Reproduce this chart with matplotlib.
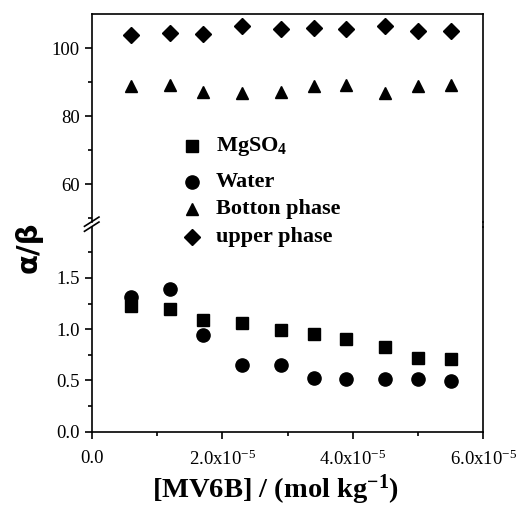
import matplotlib
matplotlib.use("Agg")
import matplotlib.pyplot as plt
from matplotlib.lines import Line2D
import numpy as np

plt.rcParams['font.family'] = ['Liberation Serif', 'DejaVu Serif']
plt.rcParams['mathtext.fontset'] = 'custom'
plt.rcParams['mathtext.rm'] = 'Liberation Serif'
plt.rcParams['mathtext.bf'] = 'Liberation Serif:bold'
plt.rcParams['mathtext.it'] = 'Liberation Serif:italic'

# donnees
conc = [0.6e-5, 1.2e-5, 1.7e-5, 2.3e-5, 2.9e-5, 3.4e-5, 3.9e-5, 4.5e-5, 5.0e-5, 5.5e-5]
mgso4 = [1.23, 1.20, 1.09, 1.06, 0.99, 0.95, 0.90, 0.83, 0.72, 0.71]
water = [1.31, 1.39, 0.94, 0.65, 0.65, 0.52, 0.51, 0.51, 0.51, 0.49]
bottom_phase = [88.8, 89.2, 87.2, 86.8, 87.0, 88.8, 89.3, 86.9, 88.8, 89.3]
upper_phase = [104.0, 104.5, 104.2, 106.5, 105.6, 106.1, 105.7, 106.6, 105.0, 105.2]

xticks = [0.0, 2e-5, 4e-5, 6e-5]
xticklabels = ['0.0', '2.0x10$^{-5}$', '4.0x10$^{-5}$', '6.0x10$^{-5}$']

noms = ['MgSO$_\\mathbf{4}$', 'Water', 'Botton phase', 'upper phase']
marqueurs = ['s', 'o', '^', 'D']
tailles = [8, 9.5, 9, 8.5]

fig = plt.figure(figsize=(5.17, 5.14), dpi=100)
ax_haut = fig.add_axes([0.1774, 0.5687, 0.7574, 0.4035])
ax_bas = fig.add_axes([0.1774, 0.1601, 0.7574, 0.3989])

for ax in (ax_haut, ax_bas):
    ax.set_xlim(0, 6e-5)
    ax.tick_params(which='both', direction='out', top=False, right=False, labelsize=13.5)
    ax.tick_params(which='major', length=5, width=1.2)
    ax.tick_params(which='minor', length=3, width=1.2)
    for sp in ax.spines.values():
        sp.set_linewidth(1.2)

# partie haute
ax_haut.plot(conc, bottom_phase, marqueurs[2], color='k', ms=tailles[2])
ax_haut.plot(conc, upper_phase, marqueurs[3], color='k', ms=tailles[3])
ax_haut.set_ylim(49, 110)
ax_haut.set_yticks([60, 80, 100])
ax_haut.set_yticks([50, 70, 90], minor=True)
ax_haut.spines['bottom'].set_visible(False)
ax_haut.tick_params(axis='x', which='both', bottom=False, labelbottom=False)

# partie basse
ax_bas.plot(conc, mgso4, marqueurs[0], color='k', ms=tailles[0])
ax_bas.plot(conc, water, marqueurs[1], color='k', ms=tailles[1])
ax_bas.set_ylim(0, 2.0)
ax_bas.set_yticks([0.0, 0.5, 1.0, 1.5])
ax_bas.set_yticklabels(['0.0', '0.5', '1.0', '1.5'])
ax_bas.set_yticks([0.25, 0.75, 1.25, 1.75], minor=True)
ax_bas.spines['top'].set_visible(False)
ax_bas.set_xticks(xticks)
ax_bas.set_xticklabels(xticklabels)
ax_bas.set_xticks([1e-5, 3e-5, 5e-5], minor=True)
ax_bas.tick_params(axis='x', pad=8)

# trait droit continu entre les deux axes
fig.add_artist(Line2D([0.9348, 0.9348], [0.5590, 0.5687], color='k', lw=1.2))
# marques de coupure
for yb in (0.5687, 0.5590):
    fig.add_artist(Line2D([0.1774 - 0.014, 0.1774 + 0.014], [yb - 0.009, yb + 0.009],
                          color='k', lw=1.2))

# legende faite a la main (espacement irregulier comme l'original)
lignes_y = [1 - 146 / 514, 1 - 182 / 514, 1 - 209 / 514, 1 - 237 / 514]
for nom, m, t, y in zip(noms, marqueurs, tailles, lignes_y):
    fig.add_artist(Line2D([192 / 517], [y], ls='none', marker=m, color='k', ms=t))
    fig.text(216 / 517, y, nom, fontsize=16, fontweight='bold', va='center', ha='left')

ax_bas.set_xlabel('[MV6B] / (mol kg$^{\\mathbf{-1}}$)', fontsize=20.5, fontweight='bold')
ax_bas.xaxis.set_label_coords(0.468, -0.2)
fig.text(0.056, 0.518, 'α/β', rotation=90, fontsize=21, fontweight='bold',
         family=['DejaVu Sans'], ha='center', va='center')

plt.savefig('out.png', dpi=100)
